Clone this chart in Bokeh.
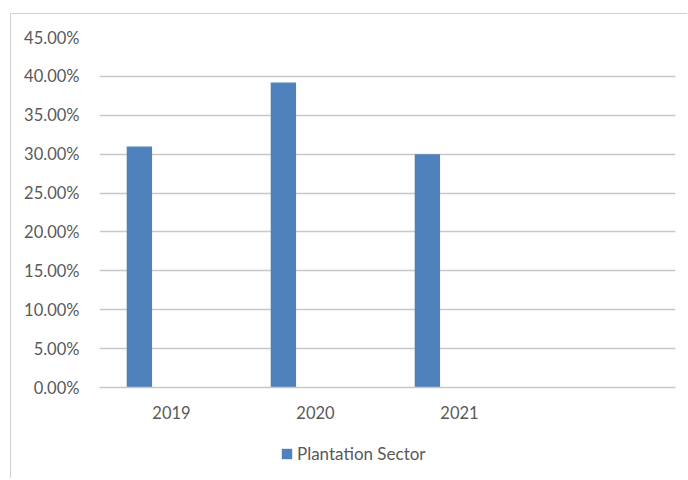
from bokeh.plotting import figure
from bokeh.layouts import column
from bokeh.models import (ColumnDataSource, FixedTicker, NumeralTickFormatter,
                          Legend, LegendItem, FactorRange)
from bokeh.transform import dodge
from bokeh.embed import file_html
from bokeh.resources import INLINE

categories = ["2019", "2020", "2021", " "]
years = ["2019", "2020", "2021"]
plantation_sector = [0.31, 0.392, 0.30]
y_ticks = [0.0, 0.05, 0.10, 0.15, 0.20, 0.25, 0.30, 0.35, 0.40, 0.45]
series_name = "Plantation Sector"

FONT = "Lato"
TEXT = "#595959"
GRID = "#c8c8c8"
BAR = "#4f81bd"

source = ColumnDataSource(data=dict(year=years, value=plantation_sector))

p = figure(x_range=FactorRange(*categories, range_padding=0),
           y_range=(0, 0.45),
           width=676, height=423,
           output_backend="svg", toolbar_location=None,
           min_border_left=88, min_border_right=12,
           min_border_top=23, min_border_bottom=50)
p.x_range.range_padding = 0

r = p.vbar(x=dodge("year", -0.223, range=p.x_range), top="value", width=0.176,
           source=source, fill_color=BAR, line_color=None)

p.outline_line_color = None
p.xgrid.grid_line_color = None
p.ygrid.grid_line_color = GRID
p.ygrid.grid_line_width = 1.5

p.yaxis.ticker = FixedTicker(ticks=y_ticks)
p.yaxis.formatter = NumeralTickFormatter(format="0.00%")
p.yaxis.axis_line_color = None
p.yaxis.major_tick_line_color = None
p.yaxis.minor_tick_line_color = None
p.yaxis.major_label_standoff = 14
p.yaxis.major_label_text_font = FONT
p.yaxis.major_label_text_font_size = "16.5px"
p.yaxis.major_label_text_color = TEXT

p.xaxis.axis_line_color = GRID
p.xaxis.axis_line_width = 1.5
p.xaxis.major_tick_line_color = None
p.xaxis.minor_tick_line_color = None
p.xaxis.major_label_standoff = 9
p.xaxis.major_label_text_font = FONT
p.xaxis.major_label_text_font_size = "16.5px"
p.xaxis.major_label_text_color = TEXT

# legend strip (frame is aligned with the main plot's frame by the column)
p2 = figure(width=676, height=41, x_range=(0, 1), y_range=(0, 1),
            output_backend="svg", toolbar_location=None,
            min_border_left=88, min_border_right=12,
            min_border_top=0, min_border_bottom=0)
p2.axis.visible = False
p2.grid.visible = False
p2.outline_line_color = None
swatch_src = ColumnDataSource(data=dict(x=[-1.0], top=[0.0]))
swatch = p2.vbar(x="x", top="top", width=0.05, source=swatch_src,
                 fill_color=BAR, line_color=None)

legend = Legend(items=[LegendItem(label=series_name, renderers=[swatch])],
                location=(181, 14), orientation="horizontal",
                glyph_width=13, glyph_height=13, label_standoff=4,
                padding=0, margin=0, border_line_color=None,
                background_fill_alpha=0,
                label_text_font=FONT, label_text_font_size="17px",
                label_text_color=TEXT)
p2.add_layout(legend, "center")

layout = column(p, p2, spacing=0)
layout.styles = {"border-left": "1px solid #d0d0d0", "border-top": "1px solid #d0d0d0",
                 "margin-left": "10px", "margin-top": "13px"}

open("out.html", "w").write(file_html(layout, INLINE))
